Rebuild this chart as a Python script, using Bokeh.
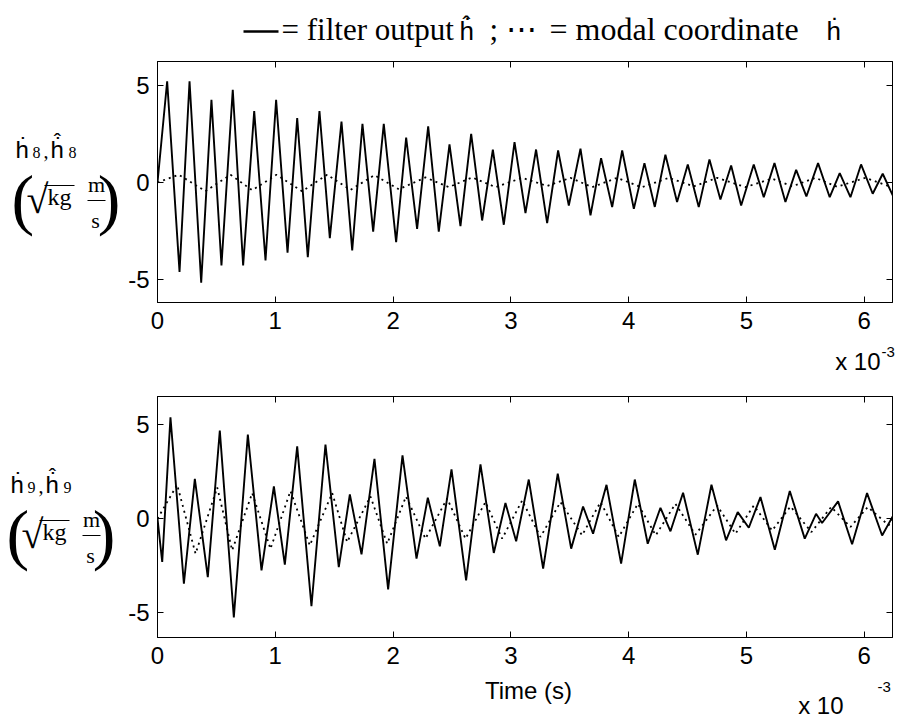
from bokeh.plotting import figure
from bokeh.models import Range1d, FixedTicker, LinearAxis, CustomLabelingPolicy
from bokeh.layouts import column, row
from bokeh.core.properties import value
from bokeh.embed import file_html
from bokeh.resources import INLINE

# ---------------- data (time in units of 1e-3 s) ----------------
x_ticks = [0, 1, 2, 3, 4, 5, 6]
y_ticks = [-5, 0, 5]
y_tick_labels = {-5: "-5", 0: "0", 5: "5"}

t8_filter = [0, 0.082, 0.187, 0.272, 0.371, 0.458, 0.543, 0.639, 0.727, 0.821, 0.917, 1.007,
             1.104, 1.186, 1.276, 1.375, 1.463, 1.562, 1.653, 1.740, 1.831, 1.921, 2.026, 2.111,
             2.204, 2.298, 2.388, 2.479, 2.572, 2.663, 2.756, 2.847, 2.940, 3.031, 3.124, 3.214,
             3.308, 3.401, 3.492, 3.591, 3.676, 3.766, 3.860, 3.945, 4.044, 4.134, 4.222, 4.312,
             4.411, 4.502, 4.595, 4.686, 4.779, 4.870, 4.955, 5.062, 5.147, 5.238, 5.331, 5.422,
             5.509, 5.608, 5.707, 5.792, 5.883, 5.973, 6.072, 6.157, 6.242]
h8_filter = [0, 5.22, -4.62, 5.22, -5.17, 4.26, -4.28, 4.78, -4.28, 3.68, -4.02, 4.26,
             -3.62, 3.32, -3.85, 3.68, -2.87, 3.14, -3.51, 3.02, -2.53, 3.02, -3.08, 2.32,
             -2.39, 2.89, -2.53, 1.96, -2.25, 2.51, -1.96, 1.70, -2.18, 2.08, -1.58, 1.70,
             -2.10, 1.65, -1.19, 1.74, -1.70, 1.25, -1.27, 1.65, -1.36, 1.00, -1.26, 1.43,
             -1.01, 0.93, -1.27, 1.19, -0.88, 0.88, -1.19, 0.93, -0.76, 1.00, -1.01, 0.65,
             -0.72, 1.00, -0.76, 0.48, -0.76, 0.93, -0.58, 0.45, -0.67]

t8_modal = [0, 0.181, 0.407, 0.620, 0.804, 1.010, 1.228, 1.440, 1.638, 1.842, 2.049, 2.275,
            2.473, 2.672, 2.870, 3.096, 3.308, 3.506, 3.690, 3.902, 4.110, 4.341, 4.553, 4.751,
            4.991, 5.218, 5.388, 5.586, 5.770, 6.010, 6.222]
h8_modal = [0, 0.40, -0.45, 0.40, -0.40, 0.40, -0.45, 0.40, -0.38, 0.38, -0.35, 0.26,
            -0.24, 0.26, -0.24, 0.24, -0.18, 0.24, -0.24, 0.24, -0.25, 0.24, -0.20, 0.24,
            -0.24, 0.20, -0.20, 0.24, -0.22, 0.24, -0.22]

t9_filter = [0, 0.040, 0.110, 0.224, 0.317, 0.427, 0.529, 0.648, 0.767, 0.883, 0.988, 1.081,
             1.186, 1.307, 1.426, 1.539, 1.633, 1.732, 1.842, 1.958, 2.080, 2.199, 2.295, 2.397,
             2.496, 2.620, 2.742, 2.855, 2.954, 3.045, 3.152, 3.274, 3.398, 3.512, 3.613, 3.698,
             3.812, 3.936, 4.052, 4.162, 4.270, 4.355, 4.462, 4.587, 4.703, 4.827, 4.926, 5.020,
             5.119, 5.241, 5.368, 5.495, 5.591, 5.642, 5.778, 5.897, 6.024, 6.152, 6.251]
h9_filter = [0, -2.30, 5.39, -3.45, 2.12, -3.10, 4.68, -5.25, 4.47, -2.74, 1.71, -2.44,
             3.84, -4.65, 3.94, -2.57, 1.29, -1.89, 3.18, -3.75, 3.36, -2.12, 1.11, -1.47,
             2.62, -3.27, 2.88, -1.82, 0.83, -1.20, 2.08, -2.65, 2.39, -1.59, 0.65, -0.80,
             1.80, -2.39, 2.08, -1.33, 0.58, -0.67, 1.38, -1.91, 1.80, -1.15, 0.35, -0.48,
             1.15, -1.65, 1.47, -1.06, 0.26, -0.23, 0.92, -1.36, 1.36, -0.89, 0.23]

t9_modal = [0, 0.167, 0.323, 0.507, 0.634, 0.804, 0.959, 1.129, 1.293, 1.483, 1.610, 1.808,
            1.950, 2.110, 2.275, 2.459, 2.615, 2.784, 2.926, 3.096, 3.251, 3.421, 3.605, 3.761,
            3.916, 4.078, 4.230, 4.397, 4.567, 4.751, 4.907, 5.062, 5.218, 5.374, 5.552, 5.719,
            5.883, 6.030, 6.208, 6.250]
h9_modal = [0, 1.80, -1.86, 1.66, -1.68, 1.36, -1.60, 1.47, -1.42, 1.36, -1.24, 1.18,
            -1.33, 1.18, -1.06, 1.07, -1.06, 0.88, -1.06, 0.97, -0.97, 0.88, -0.88, 0.88,
            -0.97, 0.79, -0.88, 0.79, -0.85, 0.70, -0.80, 0.70, -0.63, 0.65, -0.71, 0.62,
            -0.44, 0.62, -0.35, 0.09]

SANS = "Liberation Sans"
SERIF = "Liberation Serif"
TICK_PX = "24px"
W = 897
LEFT_W = 122
RIGHT_W = W - LEFT_W

NO_LABELS = CustomLabelingPolicy(code="""
try { const ks = Array.from(indices); for (const k of ks) { indices.unset(k) } } catch (e) {}
return indices
""")


def make_panel(tf, hf, tm, hm, yr, height, b_top, b_bottom):
    p = figure(width=RIGHT_W, height=height, output_backend="svg", toolbar_location=None,
               x_range=Range1d(0, 6.24), y_range=Range1d(*yr),
               min_border_left=157 - LEFT_W, min_border_right=5,
               min_border_top=b_top, min_border_bottom=b_bottom)
    p.grid.visible = False
    p.outline_line_color = "black"
    p.outline_line_width = 1
    p.line(tf, hf, line_color="black", line_width=1.9)
    p.line(tm, hm, line_color="black", line_width=1.8, line_dash="2 4")

    p.xaxis.ticker = FixedTicker(ticks=x_ticks)
    p.yaxis.ticker = FixedTicker(ticks=y_ticks)
    p.yaxis.major_label_overrides = y_tick_labels
    for ax in list(p.xaxis) + list(p.yaxis):
        ax.axis_line_color = "black"
        ax.major_tick_line_color = "black"
        ax.major_tick_in = 6
        ax.major_tick_out = 0
        ax.minor_tick_line_color = None
        ax.major_label_text_font = SANS
        ax.major_label_text_font_size = TICK_PX
        ax.major_label_text_color = "black"
    p.xaxis.major_label_standoff = 9
    p.yaxis.major_label_standoff = 8

    right = LinearAxis(ticker=FixedTicker(ticks=y_ticks))
    top = LinearAxis(ticker=FixedTicker(ticks=x_ticks))
    for ax in (right, top):
        ax.axis_line_color = "black"
        ax.major_tick_line_color = "black"
        ax.major_tick_in = 6
        ax.major_tick_out = 0
        ax.minor_tick_line_color = None
        ax.major_label_text_font_size = "0px"
        ax.major_label_standoff = 0
        ax.major_label_policy = NO_LABELS
    p.add_layout(right, "right")
    p.add_layout(top, "above")
    return p


def canvas(x0, w, fy0, fy1, h, b_top=0, b_bottom=0):
    """Blank figure whose data coordinates equal page pixels (y downward).
    fy0..fy1 is the page span of the frame (kept aligned with its neighbour)."""
    f = figure(width=w, height=h, output_backend="svg", toolbar_location=None,
               x_range=Range1d(x0, x0 + w), y_range=Range1d(fy1, fy0),
               x_axis_type=None, y_axis_type=None, min_border=0,
               min_border_top=b_top, min_border_bottom=b_bottom)
    f.grid.visible = False
    f.outline_line_color = None
    f.title.visible = False
    return f


def txt(f, X, Y, s, font, size, align="left"):
    """Y is the intended alphabetic baseline; drawn with a 'middle' anchor."""
    px = float(size.replace("px", ""))
    f.text(x=[X], y=[Y - 0.35 * px], text=[s], text_font=value(font), text_font_size=value(size),
           text_color="black", text_align=align, text_baseline="middle")


def hbar(f, X0, X1, Y, w=1.3):
    f.segment(x0=[X0], y0=[Y], x1=[X1], y1=[Y], line_color="black", line_width=w)


def ylabel(f, dx, dy, idx):
    txt(f, 15 + dx, 157 + dy, "\u1e23", SANS, "24px")
    txt(f, 32 + dx, 158 + dy, idx, SERIF, "16px")
    txt(f, 43 + dx, 157 + dy, ",", SERIF, "20px")
    txt(f, 50 + dx, 157 + dy, "\u1e23", SANS, "24px")
    txt(f, 57 + dx, 149 + dy, "\u02c6", SANS, "22px", align="center")
    txt(f, 68 + dx, 158 + dy, idx, SERIF, "16px")
    txt(f, 11 + dx, 222 + dy, "(", SERIF, "68px")
    txt(f, 120 + dx, 222 + dy, ")", SERIF, "68px", align="right")
    txt(f, 26 + dx, 213 + dy, "\u221a", SERIF, "40px")
    hbar(f, 44 + dx, 74 + dx, 185 + dy, 1.2)
    txt(f, 47 + dx, 205 + dy, "kg", SERIF, "24px")
    txt(f, 96 + dx, 192 + dy, "m", SERIF, "22px", align="center")
    hbar(f, 87 + dx, 105 + dx, 200 + dy, 1.2)
    txt(f, 95 + dx, 228 + dy, "s", SERIF, "22px", align="center")


# page rows: title 0-59, panel1 59-340 (frame 61-302), strip1 340-375,
#            panel2 375-675 (frame 396-637), strip2 675-719
title_f = canvas(0, W, 0, 59, 59)
hbar(title_f, 243, 278, 31, 2.6)
txt(title_f, 281, 40, "= filter output", SERIF, "31px")
txt(title_f, 459, 40, "\u1e23", SANS, "26px")
txt(title_f, 466, 32, "\u02c6", SANS, "24px", align="center")
txt(title_f, 489, 40, ";", SERIF, "31px")
txt(title_f, 505, 40, "\u22ef", SERIF, "31px")
txt(title_f, 549, 40, "= modal coordinate", SERIF, "32px")
txt(title_f, 826, 40, "\u1e23", SANS, "26px")

left1 = canvas(0, LEFT_W, 61, 302, 281, 2, 38)
ylabel(left1, 0, 0, "8")
p1 = make_panel(t8_filter, h8_filter, t8_modal, h8_modal, (-6.19, 6.24), 281, 2, 38)

strip1 = canvas(0, W, 340, 375, 35)
txt(strip1, 880, 369, "x 10", SANS, "24px", align="right")
txt(strip1, 881, 357, "-3", SANS, "15px")

left2 = canvas(0, LEFT_W, 396, 637, 300, 21, 38)
ylabel(left2, -5, 335, "9")
p2 = make_panel(t9_filter, h9_filter, t9_modal, h9_modal, (-6.31, 6.49), 300, 21, 38)

strip2 = canvas(0, W, 675, 719, 44)
txt(strip2, 528, 698, "Time (s)", SANS, "24px", align="center")
txt(strip2, 843, 713, "x 10", SANS, "24px", align="right")
txt(strip2, 877, 692, "-3", SANS, "15px")

page = column(title_f, row(left1, p1), strip1, row(left2, p2), strip2)
open("out.html", "w").write(file_html(page, INLINE))
